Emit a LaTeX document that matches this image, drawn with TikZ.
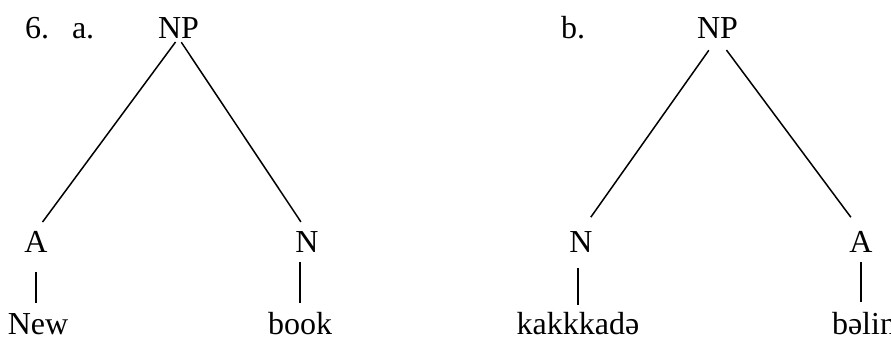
\documentclass[tikz,border=0pt]{standalone}
\usepackage{fontspec}
\setmainfont{Liberation Serif}
\begin{document}
\begin{tikzpicture}[x=1pt,y=-1pt,
  lab/.style={inner sep=0pt,outer sep=0pt,anchor=base,font=\fontsize{32}{38}\selectfont},
  edge/.style={line width=1.5pt}]
\useasboundingbox (0,0) rectangle (891,337);
% tree a
\node[lab,anchor=base west] (six) at (25,38) {6.};
\node[lab,anchor=base west] (la) at (72,38) {a.};
\node[lab] (npa) at (178.5,38) {NP};
\node[lab] (aA) at (36,252) {A};
\node[lab] (Na) at (307,252) {N};
\node[lab] (new) at (38,334) {New};
\node[lab] (book) at (300,334) {book};
% tree b
\node[lab,anchor=base west] (lb) at (561,38) {b.};
\node[lab] (npb) at (717.5,38) {NP};
\node[lab] (Nb) at (581,252) {N};
\node[lab] (Ab) at (861,252) {A};
\node[lab] (kak) at (578,334) {kakkkadə};
\node[lab,anchor=base west] (belin) at (832,334) {bəlin};
% connectors a
\draw[edge,shorten <=5pt,shorten >=11pt] (npa.south) -- (aA.north);
\draw[edge,shorten <=5pt,shorten >=11pt] (npa.south) -- (Na.north);
\draw[edge,shorten <=20pt,shorten >=10pt] (aA.south) -- (aA.south |- new.north);
\draw[edge,shorten <=10pt,shorten >=9pt] (book.north |- Na.south) -- (book.north);
% connectors b
\draw[edge,shorten <=15pt,shorten >=17pt] (npb.south) -- (Nb.north);
\draw[edge,shorten <=15pt,shorten >=17pt] (npb.south) -- (Ab.north);
\draw[edge,shorten <=16pt,shorten >=7pt] (kak.north |- Nb.south) -- (kak.north);
\draw[edge,shorten <=10pt,shorten >=10pt] (Ab.south) -- (Ab.south |- belin.north);
\end{tikzpicture}
\end{document}
